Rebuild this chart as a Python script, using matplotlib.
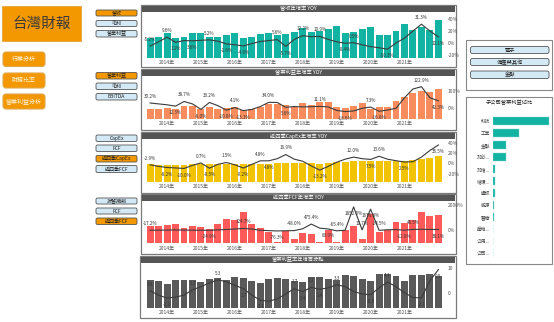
import matplotlib
matplotlib.use("Agg")
import matplotlib.pyplot as plt
from matplotlib.patches import Rectangle, FancyBboxPatch
import numpy as np

plt.rcParams['font.family'] = ['Noto Sans CJK TC', 'DejaVu Sans']

# ---------------- data ----------------
quarters = ["2013Q3", "2013Q4",
            "2014Q1", "2014Q2", "2014Q3", "2014Q4",
            "2015Q1", "2015Q2", "2015Q3", "2015Q4",
            "2016Q1", "2016Q2", "2016Q3", "2016Q4",
            "2017Q1", "2017Q2", "2017Q3", "2017Q4",
            "2018Q1", "2018Q2", "2018Q3", "2018Q4",
            "2019Q1", "2019Q2", "2019Q3", "2019Q4",
            "2020Q1", "2020Q2", "2020Q3", "2020Q4",
            "2021Q1", "2021Q2", "2021Q3", "2021Q4",
            "2022Q1"]
years = ["2014", "2015", "2016", "2017", "2018", "2019", "2020", "2021"]

revenue = [20, 21, 25, 20, 21, 25, 25, 21, 21, 23, 25, 20, 21, 24, 25, 23, 24, 26,
           30, 26, 27, 29, 32, 25, 26, 29, 31, 23, 23, 27, 34, 28, 31, 28, 38]
revenue_yoy = [-5.2, 2.0, 9.6, 1.1, 4.0, 3.6, 4.5, 5.2, 3.0, -1.6, -3.0, -4.9, -1.0, 2.5,
               4.0, 5.6, -5.7, 6.0, 12.2, 10.5, 10.9, 6.0, 2.0, -0.4, 0.5, -3.0, -6.0,
               -8.0, -10.3, 0.0, 8.0, 20.0, 31.3, 20.0, 10.1]
revenue_lbl = [0, 2, 3, 5, 7, 9, 11, 15, 16, 18, 20, 23, 24, 28, 32, 34]

op_income = [28, 30, 32, 30, 38, 38, 30, 35, 28, 32, 35, 25, 30, 35, 42, 42, 40, 35,
             45, 41, 48, 50, 35, 32, 38, 45, 30, 35, 35, 52, 65, 75, 82, 80, 88]
op_income_yoy = [30.2, 25.0, 20.0, 12.3, 38.7, 25.0, -6.0, 33.2, 15.0, -10.8, 4.1, -13.1,
                 -6.4, 10.0, 34.0, 33.0, 5.6, 10.0, 8.0, 9.0, 11.1, 8.0, -12.0, -18.6,
                 -15.0, 0.0, 7.3, -16.8, -10.0, 0.0, 60.0, 110.0, 122.9, 60.0, 42.3]
op_income_lbl = [0, 3, 4, 6, 7, 9, 10, 11, 14, 16, 20, 23, 26, 27, 32, 34]

capex_4q = [55, 52, 52, 52, 52, 55, 55, 55, 55, 55, 55, 55, 55, 55, 55, 58, 58, 58,
            58, 58, 55, 58, 59, 60, 62, 62, 62, 62, 62, 62, 62, 65, 68, 72, 77]
capex_4q_yoy = [-2.9, -6.0, -8.2, -9.0, -10.0, -4.0, 0.7, -9.5, -2.0, 1.5, -3.0, -9.2,
                -2.0, 4.8, 4.8, 9.0, 16.9, 8.0, 4.0, -5.0, -13.2, -6.0, 2.0, 8.0, 12.0,
                9.0, 7.5, 13.6, 8.0, 5.0, 2.5, 3.0, 12.0, 25.0, 35.5]
capex_4q_lbl = [0, 2, 4, 6, 7, 9, 11, 13, 14, 16, 20, 24, 26, 27, 30, 34]

fcf_4q = [50, 50, 53, 56, 45, 51, 48, 41, 58, 71, 70, 93, 58, 46, 33, 3, 36, 13,
          31, 28, 3, 38, 3, 40, 50, 13, 86, 33, 40, 63, 60, 70, 93, 80, 83]
fcf_4q_yoy = [-17.2, -10.0, -5.0, 5.0, -8.0, -12.0, -20.0, -24.9, 10.0, 40.0, 80.0,
              124.7, 80.0, -20.0, -50.0, -76.3, -60.0, -48.0, 100.0, 475.4, 150.0,
              83.9, -65.4, -17.8, 1852.0, 10.7, 1670.3, -24.5, 20.0, 30.0, -12.8,
              46.5, 60.0, 45.0, 38.1]
fcf_4q_lbl = [0, 7, 11, 15, 17, 19, 21, 22, 24, 25, 26, 27, 30, 31, 34]

op_margin = [84, 80, 72, 84, 84, 84, 77, 87, 89, 82, 92, 89, 80, 75, 87, 89, 87, 80,
             77, 92, 92, 87, 82, 99, 94, 87, 80, 102, 102, 94, 80, 99, 99, 102, 94]
op_margin_chg = [0.8, -1.0, -2.2, -1.8, -1.0, 1.2, 2.5, 4.0, 5.3, 4.5, 3.0, 1.7, -1.0,
                 -3.1, -3.5, -2.5, -0.5, 1.7, 0.4, 2.2, 1.4, 2.0, 3.3, 2.5, 0.5, -0.5,
                 -0.8, 2.0, 4.4, 2.5, 0.0, -2.0, -2.1, 5.0, 9.5]
op_margin_lbl = [0, 2, 5, 8, 11, 13, 17, 18, 19, 20, 22, 26, 28, 32, 34]

sectors = ["科技", "工業", "金融", "非必...", "非循...", "循環...", "通訊", "能源",
           "醫療", "房地...", "公用...", "公司..."]
sector_share = [48.5, 22.2, 11.5, 11.0, 2.0, 2.0, 1.5, 0.9, 0.6, 0.3, 0.3, 0.2]

nav_buttons = ["行業分析", "財務比率", "營業利益分析"]
group_buttons = ["電子", "傳產與其他", "金融"]

# ---------------- figure ----------------
W, H = 554, 322
fig = plt.figure(figsize=(W / 100, H / 100), dpi=100)
fig.patch.set_facecolor("white")
bg = fig.add_axes([0, 0, 1, 1])
bg.set_xlim(0, W)
bg.set_ylim(H, 0)
bg.axis("off")

ORANGE = "#F39800"
LIGHT = "#D3E9F5"


def px_axes(x0, y0, x1, y1):
    return fig.add_axes([x0 / W, 1 - y1 / H, (x1 - x0) / W, (y1 - y0) / H])


def button(x0, y0, x1, y1, text, active, fs=3.6, r=1.5):
    face = ORANGE if active else LIGHT
    bg.add_patch(FancyBboxPatch((x0, y0), x1 - x0, y1 - y0,
                                boxstyle=f"round,pad=0,rounding_size={r}",
                                fc=face, ec="#555555", lw=0.6))
    bg.text((x0 + x1) / 2, (y0 + y1) / 2, text, ha="center", va="center",
            fontsize=fs, color="#222222")


# title block and navigation
bg.add_patch(Rectangle((2, 6), 79, 34.5, fc=ORANGE, ec="#E6A23C", lw=0.6))
bg.text(41.5, 23.5, "台灣財報", ha="center", va="center", fontsize=10.5, color="#3a3a3a")
for name, (y0, y1) in zip(nav_buttons, [(52, 66.5), (73, 88), (94, 109)]):
    bg.add_patch(FancyBboxPatch((3, y0), 42, y1 - y0,
                                boxstyle="round,pad=0,rounding_size=3",
                                fc=ORANGE, ec="#E0A84A", lw=0.8))
    bg.text(24, (y0 + y1) / 2, name, ha="center", va="center", fontsize=4.3,
            color="#FFF4DC")

# selector buttons next to each panel
button(96, 10, 137, 16, "營收", True)
button(96, 20.5, 137, 26.5, "毛利", False)
button(96, 30.5, 137, 37, "營業利益", False)
button(96, 72.5, 137, 79, "營業利益", True)
button(96, 83, 137, 89.5, "毛利", False)
button(96, 93.5, 137, 100, "EBITDA", False)
button(96, 135, 137, 141.5, "CapEx", False)
button(96, 145, 137, 151.5, "FCF", False)
button(96, 155.5, 137, 162, "近四季CapEx", True)
button(96, 165.5, 137, 172.5, "近四季FCF", False)
button(96, 198, 137, 204, "折舊攤銷", False)
button(96, 208, 137, 214, "FCF", False)
button(96, 218, 137, 224.5, "近四季FCF", True)

x = np.arange(len(quarters))
year_pos = [quarters.index(y + "Q1") for y in years]
year_lbls = [y + "年" for y in years]


def panel(frame, title, bars, color, bar_top, line, line_lim, ticks, tick_lbls,
          lbl_idx, unit, ax_y):
    fx0, fy0, fx1, fy1 = frame
    bg.add_patch(Rectangle((fx0 + 1.2, fy0 + 1.2), fx1 - fx0, fy1 - fy0,
                           fc="#d9d9d9", ec="none"))
    bg.add_patch(Rectangle((fx0, fy0), fx1 - fx0, fy1 - fy0, fc="white",
                           ec="#7a7a7a", lw=0.9))
    bg.add_patch(Rectangle((fx0 + 1, fy0 + 1), fx1 - fx0 - 2, 5.5, fc="#555555",
                           ec="none"))
    bg.text((fx0 + fx1) / 2, fy0 + 3.9, title, ha="center", va="center",
            fontsize=3.8, color="white")
    bg.text(fx1 - 26, fy1 - 4.5, "FinSight", ha="center", va="center", fontsize=6,
            color="#f0f0f0", fontweight="bold", zorder=0)

    ax = px_axes(145, ax_y[0], 443.5, ax_y[1])
    ax.patch.set_alpha(0)
    ax.bar(x, bars, width=0.82, color=color)
    ax.set_xlim(-0.6, len(quarters) - 0.4)
    ax.set_ylim(0, bar_top)
    ax.set_yticks([])
    ax.set_xticks(year_pos)
    ax.set_xticklabels(year_lbls, fontsize=3.6, color="#555555")
    ax.tick_params(axis="x", length=0, pad=1.8)
    for s in ax.spines.values():
        s.set_visible(False)

    ax2 = ax.twinx()
    ax2.plot(x, line, color="#3b3b3b", lw=0.8)
    ax2.set_ylim(*line_lim)
    ax2.set_yticks(ticks)
    ax2.set_yticklabels(tick_lbls, fontsize=3.6, color="#555555")
    ax2.tick_params(axis="y", length=0, pad=3)
    for s in ax2.spines.values():
        s.set_visible(False)

    last_i, last_up = None, None
    for i in lbl_idx:
        v = line[i]
        prev = line[i - 1] if i > 0 else v
        up = v >= prev
        if last_i == i - 1 and up == last_up:
            up = not up
        if v > 0.75 * line_lim[1]:
            up = False
        last_i, last_up = i, up
        ax2.annotate(f"{v:.1f}{unit}", (x[i], v), xytext=(0, 3.0 if up else -3.0),
                     textcoords="offset points", ha="center",
                     va="bottom" if up else "top", fontsize=3.3, color="#333333",
                     annotation_clip=False)


panel((141, 5, 456, 67), "營收年增率 YOY", revenue, "#12B3A2", 43.5,
      revenue_yoy, (-24.2, 48.3), [-20, 0, 20, 40], ["-20%", "0%", "20%", "40%"],
      revenue_lbl, "%", (14, 57.5))
panel((141, 69, 456, 130), "營業利益年增率 YOY", op_income, "#F98C5C", 124.5,
      op_income_yoy, (-58, 178), [0, 100], ["0%", "100%"],
      op_income_lbl, "%", (77, 118.5))
panel((141, 132, 456, 193), "近四季CapEx年增率 YOY", capex_4q, "#F2C300", 126,
      capex_4q_yoy, (-36.3, 45.2), [-20, 0, 20, 40], ["-20%", "0%", "20%", "40%"],
      capex_4q_lbl, "%", (140, 182))
panel((141, 194, 456, 254), "近四季FCF年增率 YOY", fcf_4q, "#FF5A5A", 123,
      fcf_4q_yoy, (-1040, 2240), [0, 2000], ["0%", "2000%"],
      fcf_4q_lbl, "%", (202, 243))
panel((140, 256, 456, 318), "營業利益率年增百分點", op_margin, "#595959", 130.5,
      op_margin_chg, (-6.07, 11.8), [0, 10], ["0", "10"],
      op_margin_lbl, "", (264, 307.5))

# right column: group selector
bg.add_patch(Rectangle((466, 40), 86, 50, fc="white", ec="#888888", lw=0.8))
for name, (y0, y1) in zip(group_buttons, [(46.5, 53.5), (58.5, 65.5), (71, 78.5)]):
    button(470.5, y0, 549, y1, name, False, fs=3.8, r=2)

# right column: sector share
bg.add_patch(Rectangle((466, 97), 86, 166.5, fc="white", ec="#888888", lw=0.8))
bg.text(509, 102, "子公司營業利益佔比", ha="center", va="center", fontsize=3.8,
        color="#222222")
bg.text(509, 113, "FinSight", ha="center", va="center", fontsize=10,
        color="#f0f0f0", fontweight="bold", zorder=0)
hx = px_axes(493, 115, 551, 259)
hx.patch.set_alpha(0)
yy = np.arange(len(sectors))
hx.barh(yy, sector_share, height=0.62, color="#12B3A2", edgecolor="#7fd8cf", lw=0.3)
hx.set_ylim(len(sectors) - 0.5, -0.5)
hx.set_xlim(0, 50.2)
hx.set_xticks([])
hx.set_yticks(yy)
hx.set_yticklabels(sectors, fontsize=3.4, color="#444444")
hx.tick_params(axis="y", length=0, pad=2)
for s in hx.spines.values():
    s.set_visible(False)

fig.savefig("out.png", dpi=100)
